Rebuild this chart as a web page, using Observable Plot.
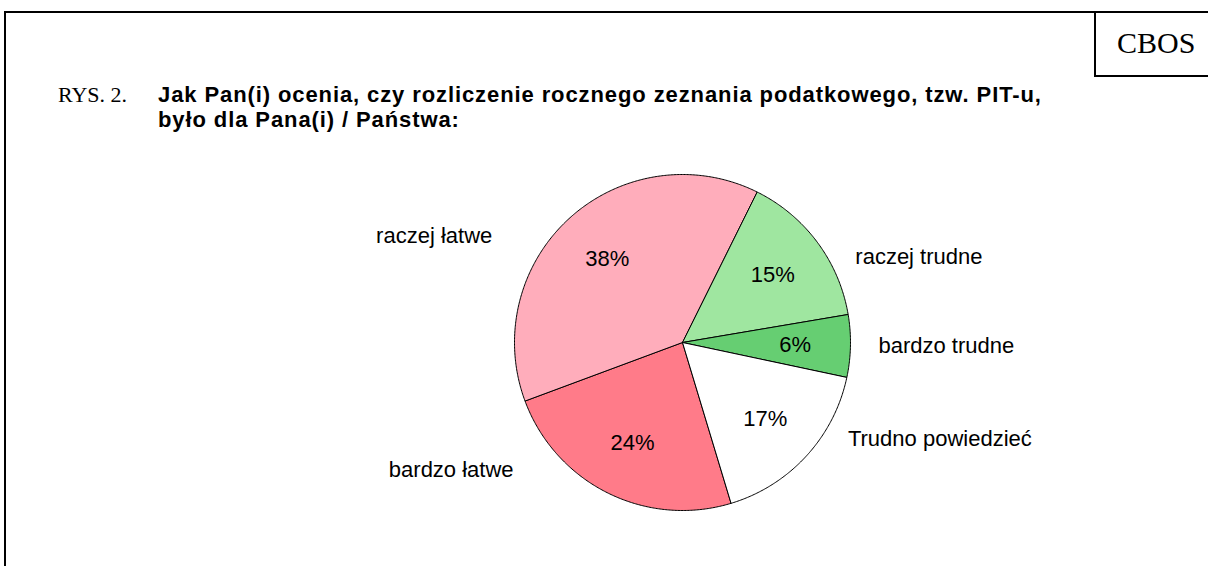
<!DOCTYPE html>
<html>
<head>
<meta charset="utf-8">
<script src="https://cdn.jsdelivr.net/npm/d3@7"></script>
<script src="https://cdn.jsdelivr.net/npm/@observablehq/plot@0.6"></script>
<style>
  html, body { margin: 0; padding: 0; background: white; }
  #wrap { position: relative; width: 1208px; height: 566px; overflow: hidden; background: white; }
  #frame { position: absolute; left: 4px; top: 11px; width: 1400px; height: 700px; border-left: 2px solid #000; border-top: 2px solid #000; }
  #cbosbox { position: absolute; left: 1094px; top: 11px; width: 200px; height: 64px; border-left: 2px solid #000; border-bottom: 2px solid #000; }
  #cbos { position: absolute; left: 1117px; top: 25px; font: 30px "Liberation Serif", "Times New Roman", serif; line-height: 36px; color: #000; }
  #title { position: absolute; left: 58px; top: 82px; display: flex; align-items: baseline; }
  #rys { width: 100px; font: 22px "Liberation Serif", "Times New Roman", serif; line-height: 25px; }
  #q { font: bold 22px "Liberation Sans", Arial, sans-serif; line-height: 25px; letter-spacing: 0.9px; color: #000; white-space: nowrap; }
  #chart { position: absolute; left: 0; top: 0; }
</style>
</head>
<body>
<div id="wrap">
  <div id="frame"></div>
  <div id="cbosbox"></div>
  <div id="cbos">CBOS</div>
  <div id="chart"></div>
  <div id="title"><div id="rys">RYS. 2.</div><div id="q">Jak Pan(i) ocenia, czy rozliczenie rocznego zeznania podatkowego, tzw. PIT-u,<br>było dla Pana(i) / Państwa:</div></div>
</div>
<script>
// Data
const categories = ["bardzo łatwe", "raczej łatwe", "raczej trudne", "bardzo trudne", "Trudno powiedzieć"];
const values = [24, 38, 15, 6, 17];
const colors = ["#FF7B89", "#FFADBB", "#9FE6A0", "#66CE72", "#FFFFFF"];

// Layout
const cx = 682, cy = 342, R = 168;
const startAngle = 163.2 * Math.PI / 180;

const rows = categories.map((c, i) => ({cat: c, value: values[i]}));
const arcs = d3.pie().value(d => d.value).sort(null)
  .startAngle(startAngle).endAngle(startAngle + 2 * Math.PI)(rows);

// polygon points for each slice (unit radius, y up)
const pts = [];
for (const a of arcs) {
  const cat = a.data.cat;
  pts.push({cat, x: 0, y: 0});
  const n = Math.max(2, Math.ceil((a.endAngle - a.startAngle) / (Math.PI / 360)));
  for (let k = 0; k <= n; k++) {
    const t = a.startAngle + (a.endAngle - a.startAngle) * k / n;
    pts.push({cat, x: Math.sin(t), y: Math.cos(t)});
  }
  pts.push({cat, x: 0, y: 0});
}

const inner = arcs.map(a => {
  const m = (a.startAngle + a.endAngle) / 2;
  return {text: a.data.value + "%", x: 0.67 * Math.sin(m), y: 0.67 * Math.cos(m)};
});

const outer = arcs.map(a => {
  const m = (a.startAngle + a.endAngle) / 2;
  const yUp = 0.85 * Math.cos(m);
  const edge = Math.sqrt(1 - yUp * yUp);
  const s = Math.sin(m) >= 0 ? 1 : -1;
  const gap = (s > 0 ? 28 : 60) / R;
  return {text: a.data.cat, side: s, x: s * (edge + gap), y: yUp};
});

const font = "Liberation Sans, Arial, sans-serif";
const chart = Plot.plot({
  width: 1208,
  height: 566,
  margin: 0,
  style: {background: "transparent", overflow: "visible"},
  x: {domain: [-1, 1], range: [cx - R, cx + R], axis: null},
  y: {domain: [-1, 1], range: [cy + R, cy - R], axis: null},
  color: {domain: categories, range: colors},
  marks: [
    Plot.line(pts, {x: "x", y: "y", z: "cat", fill: "cat", stroke: "#000", strokeWidth: 1, curve: "linear"}),
    Plot.text(inner, {x: "x", y: "y", text: "text", fontSize: 22, fontFamily: font, fill: "#000"}),
    Plot.text(outer.filter(d => d.side > 0), {x: "x", y: "y", text: "text", textAnchor: "start", fontSize: 22, fontFamily: font, fill: "#000"}),
    Plot.text(outer.filter(d => d.side < 0), {x: "x", y: "y", text: "text", textAnchor: "end", fontSize: 22, fontFamily: font, fill: "#000"})
  ]
});
document.getElementById("chart").appendChild(chart);
</script>
</body>
</html>
